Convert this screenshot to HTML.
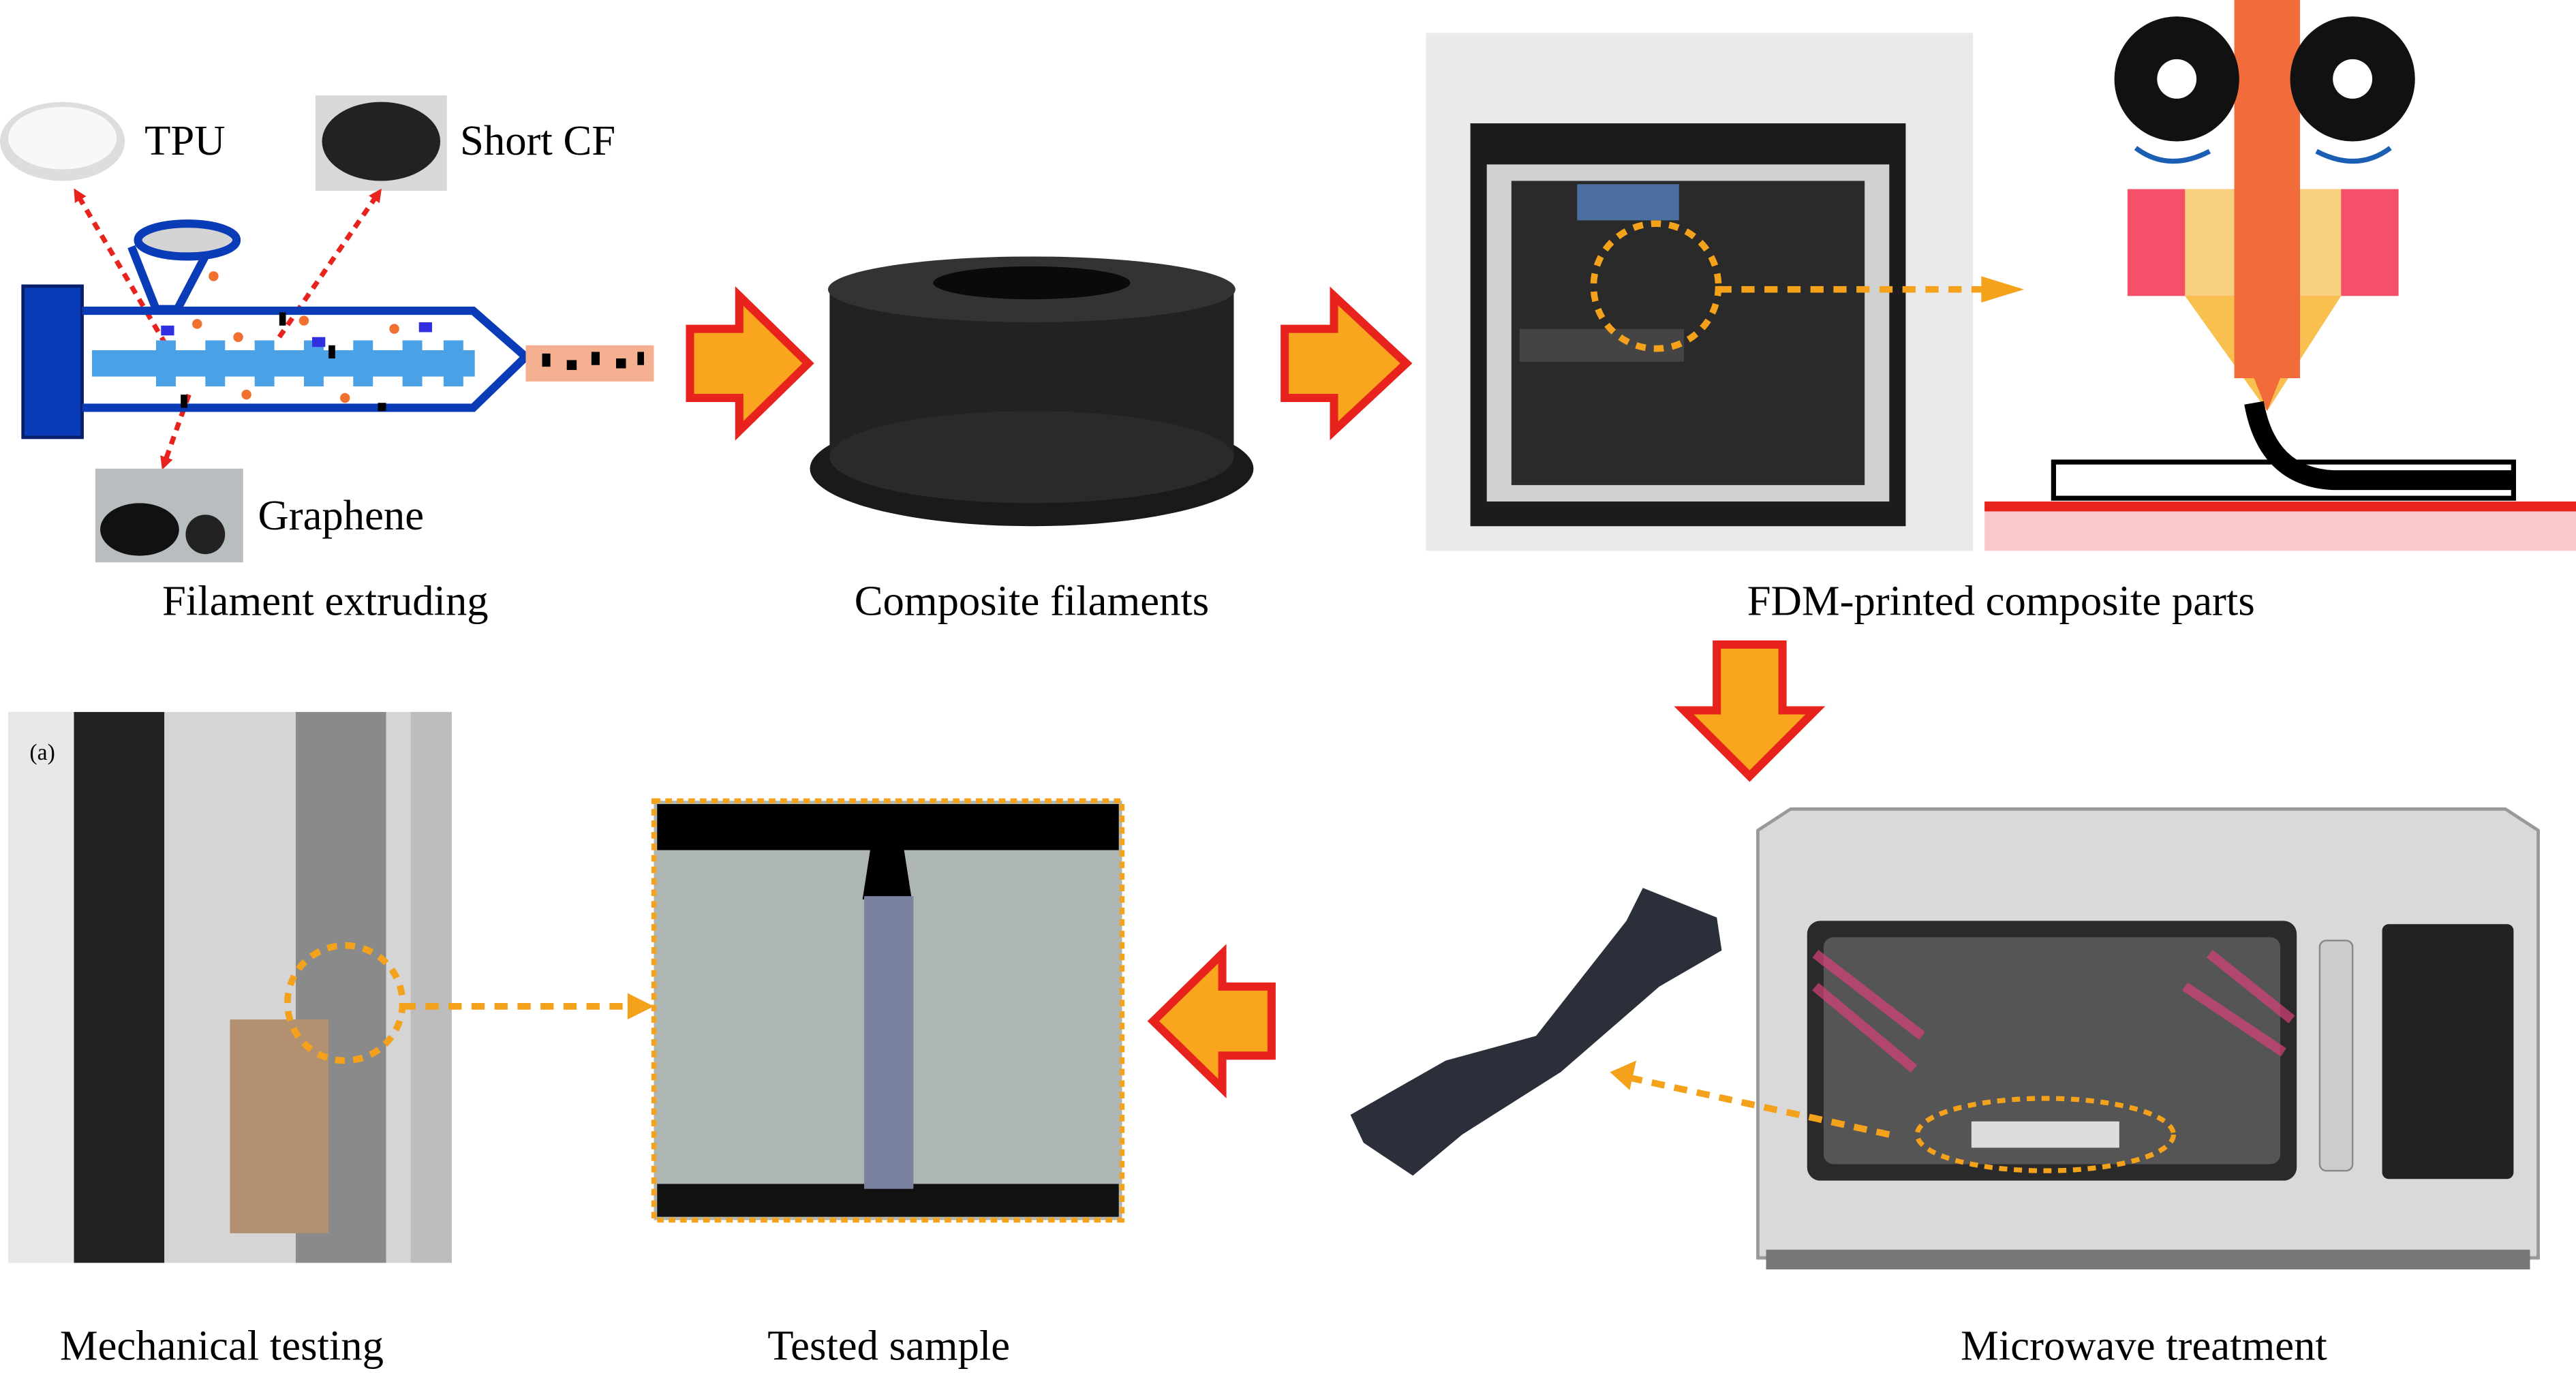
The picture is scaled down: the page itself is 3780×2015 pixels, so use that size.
<!DOCTYPE html>
<html><head><meta charset="utf-8"><style>
html,body{margin:0;padding:0;background:#fff;}
svg{display:block;}
text{font-family:"Liberation Serif",serif;fill:#000;}
</style></head><body>
<svg width="3780" height="2015" viewBox="0 0 1568 835" preserveAspectRatio="none" xmlns="http://www.w3.org/2000/svg">
<defs>
<marker id="ra" markerWidth="8" markerHeight="8" refX="4" refY="4" orient="auto" markerUnits="userSpaceOnUse"><path d="M0,0 L8,4 L0,8z" fill="#e8231d"/></marker>
</defs>
<!-- TPU dish -->
<ellipse cx="38" cy="86" rx="38" ry="24" fill="#ddd"/><ellipse cx="38" cy="84" rx="33" ry="19" fill="#f8f8f8"/>
<text x="88" y="94" font-size="26">TPU</text>
<!-- CF dish -->
<rect x="192" y="58" width="80" height="58" fill="#d8d8d8"/><ellipse cx="232" cy="86" rx="36" ry="24" fill="#222"/>
<text x="280" y="94" font-size="26">Short CF</text>
<!-- red dotted lines -->
<g stroke="#e8231d" stroke-width="3" stroke-dasharray="5,4" fill="none">
<line x1="110" y1="225" x2="47" y2="118" marker-end="url(#ra)"/>
<line x1="170" y1="205" x2="230" y2="118" marker-end="url(#ra)"/>
<line x1="115" y1="240" x2="100" y2="282" marker-end="url(#ra)"/>
</g>
<!-- extruder -->
<rect x="14" y="174" width="36" height="92" fill="#0a3cb8" stroke="#071f6a" stroke-width="2"/>
<path d="M50,189 H288 L320,217 L288,248 H50" fill="none" stroke="#0a3cb8" stroke-width="5"/>
<path d="M80,150 L95,188 H108 L128,150" fill="none" stroke="#0a3cb8" stroke-width="5"/>
<ellipse cx="114" cy="146" rx="30" ry="10" fill="#d4d4d4" stroke="#0a3cb8" stroke-width="5"/>
<rect x="56" y="213" width="233" height="16" fill="#4aa1e6"/>
<g fill="#4aa1e6"><rect x="95" y="207" width="12" height="28"/><rect x="125" y="207" width="12" height="28"/><rect x="155" y="207" width="12" height="28"/><rect x="185" y="207" width="12" height="28"/><rect x="215" y="207" width="12" height="28"/><rect x="245" y="207" width="12" height="28"/><rect x="270" y="207" width="12" height="28"/></g>
<rect x="320" y="210" width="78" height="22" fill="#f4b090"/>
<g fill="#000"><rect x="330" y="215" width="5" height="8"/><rect x="345" y="219" width="6" height="6"/><rect x="360" y="214" width="5" height="8"/><rect x="375" y="218" width="6" height="6"/><rect x="388" y="214" width="4" height="8"/></g>
<g fill="#f07030"><circle cx="120" cy="197" r="3"/><circle cx="145" cy="205" r="3"/><circle cx="185" cy="195" r="3"/><circle cx="240" cy="200" r="3"/><circle cx="150" cy="240" r="3"/><circle cx="210" cy="242" r="3"/><circle cx="130" cy="168" r="3"/></g>
<g fill="#000"><rect x="170" y="190" width="4" height="8"/><rect x="200" y="210" width="4" height="8"/><rect x="110" y="240" width="4" height="8"/><rect x="230" y="245" width="5" height="5"/></g>
<g fill="#3030e0"><rect x="98" y="198" width="8" height="6"/><rect x="190" y="205" width="8" height="6"/><rect x="255" y="196" width="8" height="6"/></g>
<!-- graphene -->
<rect x="58" y="285" width="90" height="57" fill="#b8bdc0"/><ellipse cx="85" cy="322" rx="24" ry="16" fill="#111"/><ellipse cx="125" cy="325" rx="12" ry="12" fill="#222"/>
<text x="157" y="322" font-size="26">Graphene</text>
<text x="198" y="374" font-size="26" text-anchor="middle">Filament extruding</text>
<!-- arrows -->
<path d="M420,200 H450 V180 L492,221 L450,262 V242 H420z" fill="#f9a51e" stroke="#e8231d" stroke-width="5"/>
<path d="M782,200 H812 V180 L856,221 L812,262 V242 H782z" fill="#f9a51e" stroke="#e8231d" stroke-width="5"/>
<!-- spool -->
<ellipse cx="628" cy="285" rx="135" ry="35" fill="#1a1a1a"/>
<rect x="505" y="178" width="246" height="102" fill="#222"/>
<ellipse cx="628" cy="278" rx="123" ry="28" fill="#2a2a2a"/>
<ellipse cx="628" cy="176" rx="124" ry="20" fill="#333"/>
<ellipse cx="628" cy="172" rx="60" ry="10" fill="#0a0a0a"/>
<text x="628" y="374" font-size="26" text-anchor="middle">Composite filaments</text>
<!-- printer photo -->
<rect x="868" y="20" width="333" height="315" fill="#eaeaea"/>
<path d="M895,75 H1160 V320 H895z" fill="#1c1c1c"/>
<rect x="905" y="100" width="245" height="205" fill="#cfd1d3"/>
<rect x="920" y="110" width="215" height="185" fill="#2a2a2a"/>
<rect x="960" y="112" width="62" height="22" fill="#4a6fa0"/>
<rect x="925" y="200" width="100" height="20" fill="#444"/>
<circle cx="1008" cy="174" r="38" fill="none" stroke="#f4a11b" stroke-width="4" stroke-dasharray="6,5"/>
<line x1="1046" y1="176" x2="1210" y2="176" stroke="#f4a11b" stroke-width="4" stroke-dasharray="8,6"/>
<path d="M1206,168 L1232,176 L1206,184z" fill="#f4a11b"/>
<!-- nozzle diagram -->
<rect x="1208" y="305" width="360" height="30" fill="#f9c8c8"/>
<rect x="1208" y="305" width="360" height="6" fill="#e8231d"/>
<rect x="1250" y="281" width="280" height="22" fill="#fff" stroke="#000" stroke-width="3"/>
<rect x="1295" y="115" width="165" height="65" fill="#f5506a"/>
<rect x="1330" y="115" width="95" height="65" fill="#f9d080"/>
<path d="M1330,180 H1425 L1380,250z" fill="#f9c050"/>
<rect x="1360" y="0" width="40" height="230" fill="#f26b3a"/>
<path d="M1360,200 L1380,250 L1400,200" fill="#f26b3a"/>
<path d="M1372,245 Q1380,290 1420,292 H1530" fill="none" stroke="#000" stroke-width="12"/>
<circle cx="1325" cy="48" r="38" fill="#111"/><circle cx="1325" cy="48" r="12" fill="#fff"/>
<circle cx="1432" cy="48" r="38" fill="#111"/><circle cx="1432" cy="48" r="12" fill="#fff"/>
<path d="M1300,90 Q1320,105 1345,92" fill="none" stroke="#1a5fb4" stroke-width="3"/>
<path d="M1410,92 Q1435,105 1455,90" fill="none" stroke="#1a5fb4" stroke-width="3"/>
<text x="1218" y="374" font-size="26" text-anchor="middle">FDM-printed composite parts</text>
<!-- down arrow -->
<path d="M1045,392 H1085 V432 H1105 L1065,472 L1025,432 H1045z" fill="#f9a51e" stroke="#e8231d" stroke-width="5"/>
<!-- microwave -->
<path d="M1070,505 L1090,492 H1525 L1545,505 V765 H1070z" fill="#d9d9d9" stroke="#999" stroke-width="2"/>
<rect x="1075" y="760" width="465" height="12" fill="#777"/>
<rect x="1100" y="560" width="298" height="158" rx="8" fill="#2a2a2a"/>
<rect x="1110" y="570" width="278" height="138" rx="6" fill="#555"/>
<ellipse cx="1245" cy="690" rx="78" ry="22" fill="none" stroke="#f4a11b" stroke-width="3" stroke-dasharray="5,4"/>
<rect x="1200" y="682" width="90" height="16" fill="#ddd"/>
<rect x="1412" y="572" width="20" height="140" rx="4" fill="#ccc" stroke="#888"/>
<rect x="1450" y="562" width="80" height="155" rx="4" fill="#222"/>
<path d="M1105,580 L1170,630 M1105,600 L1165,650 M1345,580 L1395,620 M1330,600 L1390,640" stroke="#d8407a" stroke-width="6" opacity="0.7"/>
<text x="1305" y="827" font-size="26" text-anchor="middle">Microwave treatment</text>
<!-- dogbone -->
<path d="M822,678 L880,645 L935,630 L990,560 L1000,540 L1045,558 L1048,578 L1010,600 L950,652 L890,690 L860,715 L830,695 Z" fill="#2b2f3a"/>
<line x1="1150" y1="690" x2="990" y2="655" stroke="#f4a11b" stroke-width="4" stroke-dasharray="8,6"/>
<path d="M996,645 L980,652 L992,663z" fill="#f4a11b"/>
<!-- left arrow -->
<path d="M774,600 H744 V580 L702,621 L744,662 V642 H774z" fill="#f9a51e" stroke="#e8231d" stroke-width="5"/>
<!-- tested sample -->
<rect x="398" y="487" width="285" height="255" fill="#aeb6b4" stroke="#f4a11b" stroke-width="3" stroke-dasharray="4,3"/>
<rect x="400" y="489" width="281" height="28" fill="#000"/>
<rect x="400" y="720" width="281" height="20" fill="#111"/>
<path d="M530,515 L525,547 H555 L550,515z" fill="#000"/>
<rect x="526" y="545" width="30" height="178" fill="#7b82a0"/>
<text x="541" y="827" font-size="26" text-anchor="middle">Tested sample</text>
<!-- mechanical testing -->
<rect x="5" y="433" width="270" height="335" fill="#d5d5d5"/>
<rect x="45" y="433" width="55" height="335" fill="#222"/>
<rect x="5" y="433" width="40" height="335" fill="#e8e8e8"/>
<rect x="180" y="433" width="55" height="335" fill="#8a8a8a"/>
<rect x="250" y="433" width="25" height="335" fill="#bdbdbd"/>
<rect x="140" y="620" width="60" height="130" fill="#b39070"/>
<circle cx="210" cy="610" r="35" fill="none" stroke="#f4a11b" stroke-width="4" stroke-dasharray="6,5"/>
<line x1="245" y1="612" x2="385" y2="612" stroke="#f4a11b" stroke-width="4" stroke-dasharray="8,6"/>
<path d="M382,604 L398,612 L382,620z" fill="#f4a11b"/>
<text x="18" y="462" font-size="14">(a)</text>
<text x="135" y="827" font-size="26" text-anchor="middle">Mechanical testing</text>
</svg>
</body></html>
